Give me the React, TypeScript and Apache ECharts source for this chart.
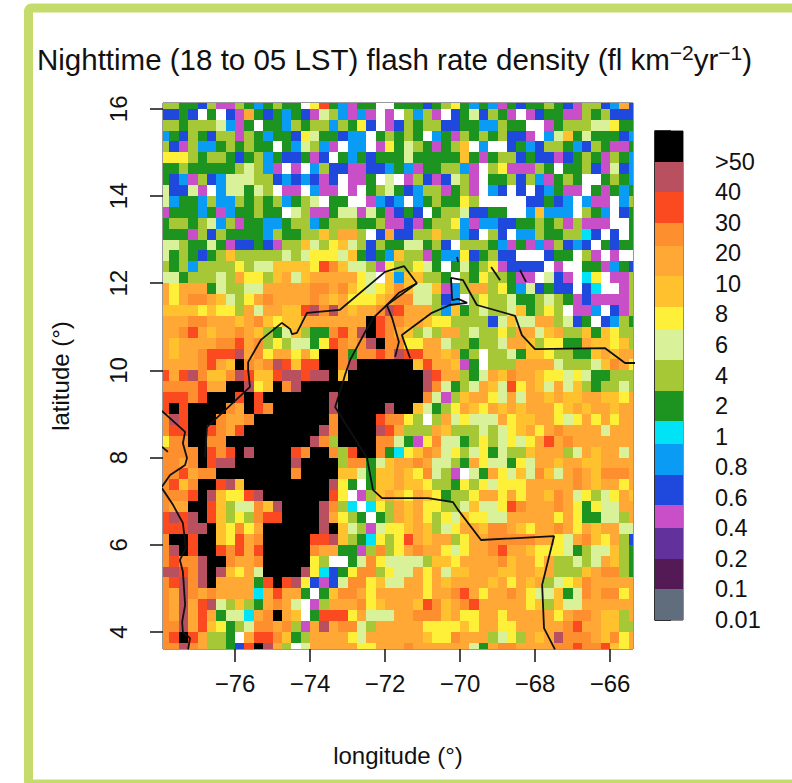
import React, { useEffect, useRef } from "react";
import * as echarts from "echarts";

const titleText = "Nighttime (18 to 05 LST) flash rate density (fl km{sup|\u22122}yr{sup|\u22121})";
const lonTicks = [-76, -74, -72, -70, -68, -66];
const latTicks = [4, 6, 8, 10, 12, 14, 16];
const legendLabels = ["0.01", "0.1", "0.2", "0.4", "0.6", "0.8", "1", "2", "4", "6", "8", "10", "20", "30", "40", ">50"];
const legendTicks = [0, 1, 2, 3, 4, 5, 6, 7, 8, 9, 10, 11, 12, 13, 14, 15, 16];
const legendBreaks = [0, 1, 2, 3, 3.75, 4.75, 5.75, 6.5, 7.5, 8.5, 9.5, 10.25, 11.25, 12.25, 13, 14, 15, 16];
const legendCodes = "sdvpBbcGglyYoORMK";

const classColors: Record<string, string> = {
  K: "#000000", M: "#B9505F", R: "#FC4A20", O: "#FD8F2E", o: "#FFA835", Y: "#FFC22E",
  y: "#FEF038", l: "#D9F29A", g: "#A6C836", G: "#1E9420", c: "#00E2F5", b: "#0A9CF5",
  B: "#1F48DC", p: "#C94FC9", v: "#63319C", d: "#541A55", s: "#5F6D7C", W: "#FFFFFF",
};

const cellRows = [
  "ggGGBgppgGbGgGGWyRGbpGGWW" + "GGGBGgyGbGbpGBGGgGBpggBboB",
  "BBGBWGWBpoGBGbGBplgbpbpWp" + "WgbgpWBGlBgGpWpBGGppgGgBBB",
  "ggGggglbpGWGGbgGggbgGyBWp" + "BgGggBBGGbbgGGWWpGgggllyGG",
  "bGBgGBggpgGbGGBylGGBbbWGg" + "GgGWbGpgGgGgBBpWblYGlGGGBb",
  "gBpgbbGgGgGGWGblgbpWbbWpy" + "GlgGpGgYWbWWBGbBggGbBgGppG",
  "yyygGggGBGgbGBBGpBWGbGBGG" + "GlGGGGGYGpGggBGBBpBGgGpgGb",
  "GGgGGGGGglgbpWpWbgBBppBBb" + "GbpGGggbpWgypppgGWGGgBplBb",
  "GBbpgBblllggBbBbBpBWppGWl" + "WpgBpBlgpWGGgBgbpGgGWWGgGb",
  "lBBlpWbllGlgWppWbppWpWGgl" + "GBbggpGgpWbBWBWBbGppWGpGbG",
  "lbGGbgbbgGgGgbGglWGGWWpbB" + "bWbGgGGygWWWWWBBGBbWbppWbg",
  "pGGGbGpbGGgGGWlgppGllplGp" + "BGBWGgglBBGGWWbYbbbWgGbWBG",
  "GggGglbgpGGbbGggbGgggGGgp" + "pBpGggybpbbBBGGgGgpgpppWWG",
  "GGGpgBgGGGGbgGGggYgoogWBo" + "BBggYggbBWgBWbbgGGggcBWBWG",
  "llgGGlGpBBGBpggYlgyYlgBgG" + "GllGgBWgggGbpGpbpgBbBWGBGG",
  "lGgGBGgYggggglglyyylYGBGb" + "YggpGbbyBGgBBWWWBGGWgpWpWW",
  "gGgbggggygllYYYYyROYllgpy" + "ggylGWGlGgypBBBBWpWWGGpbGB",
  "llGggglgoyygYolYoooooylWY" + "bYYggGWgGyggGppWlBpWcyWppg",
  "oyoooGlgglloooooOOoOYylyY" + "OYllYpbgoogyGblBGBBWBcWWpg",
  "oyoOOoYlgyoOooooOoYoyyyYo" + "OOllgBbWgygglGGglgGpBppppg",
  "YYYYyYyygolooYYRMOMoYooOM" + "RooogbYGglgglYGgygWppbWBpg",
  "oooOOoooYoOYyYYoooooooKRO" + "OooYyyggggBlYllooglBGWBbgG",
  "ooORoYooOoYgGlYgGGORoMKRO" + "oYglgooglggygoolYoggYGYygg",
  "oYooooOORoOgygllGyROoOMKO" + "OyyoolggGgglooYgyyGGoYYyYg",
  "oYooORRRMoOyooyoyKKOGOORO" + "MRRooYoGgWgglGYYyggGGYoYoo",
  "ooooORoYKOoOMRYRRKKOMKKKK" + "KKYRooYpGWgggoooolggglYOoy",
  "RoRMOYYOMRYYRMMRMMKYKKKKK" + "KKKMRoogGloYOooYyylylGGggg",
  "OOOORooKKMyYKOMKKKKKKKKKK" + "KKKMOlGgloYlRyoYlolYgGgglg",
  "RRRORKKKRKRKKKKKKKMKKKKKK" + "KKKOlpgYooylolooYoYYooYYyo",
  "RKRKKKKOoKROKKKKKKMKKKKKM" + "KKYlGgyoYyoYoYoooyYoYooYoo",
  "OMRKKKOooOKKKKKKKKOKKKKRO" + "OygWgolyllloyYYooylyoyoyoo",
  "ORRKKROoRKKKKKKKKMOKKKKMR" + "ogggoYggglglyYoyoOoooolooo",
  "yOOKKOOKKKKKKKKKMOgKKKKOO" + "lGpyOllGgyglylyoRoOooooooo",
  "OOOOKRORKMKKKKROKKOgRKKOG" + "cyYOolyglyGlggYoooglоYoolo".replace("о", "o"),
  "OOoOKRMMKKKKKKMKKKKgOOGlY" + "ooOollgGoyllGylooYooYYoooo",
  "OORoOOKKKKKKKKOKKKKYYlGYY" + "oYyOlgpWlGoylYlOYloOoYOOOo",
  "ORYOKKRMYKKKKKKKKKMyGWGYY" + "oYYyggGygylyyyoooooOoYooyo",
  "OOORKMYyyRMKKKKKKKRyWpgYo" + "YyoYyGggyooyoyooYOolyglyoY",
  "OooKKRYgllOYMKKKKMOgcWcyg" + "oYoyygglYllyROoooOoyGylloo",
  "RMRMKRYgygORRKKKKMoygGWGg" + "oYoygylYyylloooooyoyGGllgo",
  "RRRMMKYyOyoKKKKKKMKYlgply" + "yYoYglyooYOOoYyooOoyoYooll",
  "OKKRKKYyRoOKKKKKRRMYgGcyg" + "yRoYoogyooOOOOOooyloOYyogB",
  "OMKRKKRORoRKKKKKOooGGpgOg" + "yoOooylyooORooYyyylGgllYgG",
  "OROOMKKOooOKKKKKygWWGlOyl" + "lllgYYyooooOYooyoggl".concat("gloYgG"),
  "MMROMKMYyolKKKKMycBGyOOgy" + "lloyolYYoooYYooYogggYoOOgG",
  "ORMOMKooooGRKRMyBpBlOOyYl" + "looyoYooooYoyoYoglyYOooooo",
  "OoMOoOooooc".concat("oRooGWGYOOoyoo") + "oooyooORoyooOoyllYGlOoOOyo",
  "OoMoRMlgYgGoOolWpgoooOyYo" + "ooYROYoORoooooyYgYlloooooo",
  "OoMoRoGllcoOKoYWGRRRyolll" + "ooOOOYoyyooyoooooyoOOoYYgo",
  "OOMoRYyGglOOoOgpoMoOOlgoo" + "oooyyyyYyooyyoooooORooYYgg",
  "ORKRoggGWoRROYGgooooylooo" + "oooYyyOoooglygoYoMOOOoYOyo",
  "OOMOoggGBRKMogWloooooyyoo" + "oOoooooolGoOOooooOOROORYyo",
];

const firstLon = -78;
const topLat = 16;
const cellSize = 0.25;

const coastWest: number[][] = [[-75.65, 10.19], [-75.31, 10.7], [-74.75, 11.09], [-74.53, 10.95], [-74.48, 10.83], [-74.35, 10.86], [-74.08, 11.32], [-73.2, 11.39], [-72.0, 12.26], [-71.49, 12.39], [-71.15, 12.0], [-71.63, 11.78], [-71.95, 11.5], [-72.32, 11.2], [-72.53, 10.88], [-72.93, 10.24], [-73.07, 9.89], [-73.12, 9.73], [-73.33, 9.16], [-72.48, 7.99], [-72.32, 7.26], [-72.08, 7.07], [-70.85, 7.07], [-70.19, 6.98], [-70.05, 6.8], [-69.44, 6.11], [-67.49, 6.2], [-67.81, 5.08], [-67.76, 4.09], [-67.47, 3.6]];
const lakeWest: number[][] = [[-71.15, 12.0], [-71.95, 11.5], [-71.81, 11.2], [-71.63, 10.65], [-71.73, 10.31]];
const coastEast: number[][] = [[-71.33, 10.28], [-71.55, 10.81], [-70.75, 11.32], [-70.27, 11.5], [-69.81, 11.55], [-70.05, 11.64], [-70.21, 11.61], [-70.24, 12.12], [-69.92, 12.07], [-69.55, 11.5], [-68.53, 11.25], [-68.35, 10.81], [-68.0, 10.49], [-66.13, 10.51], [-65.6, 10.17], [-65.3, 10.17]];
const borderNorth: number[][] = [[-75.65, 10.19], [-75.65, 10.01], [-75.6, 9.62], [-76.75, 8.7], [-76.8, 8.01]];
const panamaEast: number[][] = [[-77.95, 9.07], [-77.33, 8.59], [-77.39, 8.33], [-77.28, 7.99], [-77.33, 7.83], [-77.73, 7.6], [-77.95, 7.33]];
const pacificCoast: number[][] = [[-77.95, 7.3], [-77.65, 6.91], [-77.39, 6.5], [-77.31, 5.93], [-77.47, 5.65], [-77.39, 5.38], [-77.33, 4.62], [-77.41, 4.23], [-77.39, 4.0], [-77.2, 3.86], [-77.25, 3.6]];
const islet1: number[][] = [[-77.95, 8.25], [-77.79, 8.13]];
const islet2: number[][] = [[-70.08, 12.6], [-70.05, 12.49]];
const islet3: number[][] = [[-69.17, 12.37], [-68.93, 12.07]];
const islet4: number[][] = [[-68.4, 12.3], [-68.24, 12.03]];
const outlines = [coastWest, lakeWest, coastEast, borderNorth, panamaEast, pacificCoast, islet1, islet2, islet3, islet4];

const font = "Liberation Sans";

function rectItem(params: any, api: any, fill: string, a: number[], b: number[]) {
  const p0 = api.coord(a);
  const p1 = api.coord(b);
  const x0 = Math.round(p0[0]);
  const y0 = Math.round(p0[1]);
  const x1 = Math.round(p1[0]);
  const y1 = Math.round(p1[1]);
  const shape = echarts.graphic.clipRectByRect(
    { x: x0, y: y0, width: x1 - x0, height: y1 - y0 },
    params.coordSys
  );
  if (!shape) return null;
  return { type: "rect", shape, style: { fill, stroke: null } };
}

export default function App() {
  const ref = useRef<HTMLDivElement>(null);
  useEffect(() => {
    const chart = echarts.init(ref.current!, null, { renderer: "svg" });
    const cells: any[] = [];
    cellRows.forEach((row, r) => {
      for (let c = 0; c < row.length; c++) {
        cells.push([firstLon + c * cellSize, topLat - r * cellSize, row[c]]);
      }
    });
    const legendCells = legendCodes.split("").map((code, i) => [legendBreaks[i], legendBreaks[i + 1], code]);
    chart.setOption({
      animation: false,
      backgroundColor: "#FFFFFF",
      textStyle: { fontFamily: font },
      title: {
        text: titleText,
        left: 37,
        top: 42,
        padding: 0,
        textStyle: {
          fontFamily: font,
          fontSize: 29.5,
          fontWeight: "normal",
          color: "#111",
          rich: { sup: { fontFamily: font, fontSize: 21, color: "#111", verticalAlign: "top", padding: [0, 0, 14, 0] } },
        },
      },
      graphic: [
        {
          type: "rect",
          silent: true,
          shape: { x: 28.5, y: 8, width: 800, height: 776, r: 3 },
          style: { fill: "none", stroke: "#C5DC6C", lineWidth: 9 },
        },
      ],
      grid: [
        { left: 163, top: 103, width: 470, height: 546, show: true, borderColor: "#333", borderWidth: 1, backgroundColor: "transparent" },
        { left: 655, top: 131, width: 28, height: 489, show: true, borderColor: "#222", borderWidth: 1, backgroundColor: "transparent" },
      ],
      xAxis: [
        {
          gridIndex: 0,
          type: "value",
          min: -77.92,
          max: -65.387,
          name: "longitude (\u00B0)",
          nameLocation: "middle",
          nameGap: 94,
          nameTextStyle: { fontSize: 24, color: "#111", fontFamily: font },
          splitLine: { show: false },
          axisLine: { show: false },
          axisTick: { show: true, length: 13, customValues: lonTicks, lineStyle: { color: "#111", width: 1.5 } },
          axisLabel: {
            show: true,
            margin: 22,
            fontSize: 24,
            color: "#111",
            fontFamily: font,
            customValues: lonTicks,
            formatter: (v: number) => String(v).replace("-", "\u2212"),
          },
        },
        { gridIndex: 1, type: "value", min: 0, max: 1, show: false },
      ],
      yAxis: [
        {
          gridIndex: 0,
          type: "value",
          min: 3.61,
          max: 16.133,
          name: "latitude (\u00B0)",
          nameLocation: "middle",
          nameGap: 91,
          nameRotate: 90,
          nameTextStyle: { fontSize: 24, color: "#111", fontFamily: font },
          splitLine: { show: false },
          axisLine: { show: false },
          axisTick: { show: true, length: 13, customValues: latTicks, lineStyle: { color: "#111", width: 1.5 } },
          axisLabel: {
            show: true,
            margin: 33,
            rotate: 90,
            fontSize: 24,
            color: "#111",
            fontFamily: font,
            customValues: latTicks,
          },
        },
        {
          gridIndex: 1,
          type: "value",
          position: "right",
          min: 0,
          max: 16,
          splitLine: { show: false },
          axisLine: { show: true, lineStyle: { color: "#111", width: 1.5 } },
          axisTick: { show: true, length: 16, customValues: legendTicks, lineStyle: { color: "#111", width: 1.5 } },
          axisLabel: {
            show: true,
            margin: 32,
            fontSize: 23.5,
            color: "#111",
            fontFamily: font,
            customValues: legendTicks.slice(0, 16),
            formatter: (v: number) => legendLabels[Math.round(v)],
          },
        },
      ],
      series: [
        {
          type: "custom",
          xAxisIndex: 0,
          yAxisIndex: 0,
          data: cells,
          silent: true,
          encode: { x: 0, y: 1 },
          renderItem: (params: any, api: any) => {
            const lon = api.value(0);
            const lat = api.value(1);
            const code = cells[params.dataIndex][2];
            return rectItem(params, api, classColors[code] || classColors.o, [lon, lat + cellSize], [lon + cellSize, lat]);
          },
        },
        {
          type: "custom",
          xAxisIndex: 1,
          yAxisIndex: 1,
          data: legendCells.map((d) => [0, d[0], d[1]]),
          silent: true,
          encode: { x: 0, y: 1 },
          renderItem: (params: any, api: any) => {
            const d = legendCells[params.dataIndex];
            return rectItem(params, api, classColors[d[2] as string], [0, d[1] as number], [1, d[0] as number]);
          },
        },
        ...outlines.map((pts) => ({
          type: "line",
          xAxisIndex: 0,
          yAxisIndex: 0,
          data: pts,
          showSymbol: false,
          symbol: "none",
          silent: true,
          z: 5,
          lineStyle: { color: "#111", width: 1.8 },
        })),
      ],
    });
    return () => chart.dispose();
  }, []);
  return <div ref={ref} style={{ position: "absolute", left: 0, top: 0, width: 792, height: 783 }} />;
}
